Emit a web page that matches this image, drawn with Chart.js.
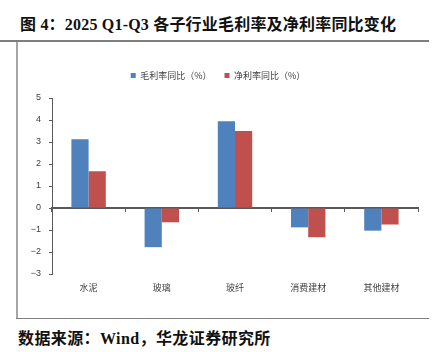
<!DOCTYPE html>
<html>
<head>
<meta charset="utf-8">
<script src="https://cdn.jsdelivr.net/npm/chart.js@4"></script>
<style>
  html, body { margin: 0; padding: 0; background: #fff; }
  body { width: 443px; height: 352px; position: relative; overflow: hidden; }
  #title {
    position: absolute; left: 20px; top: 11px;
    font: bold 16px "Liberation Serif", "Noto Sans CJK SC", serif;
    letter-spacing: 0.2px;
    color: #111; white-space: nowrap;
  }
  #topline { position: absolute; left: 0; top: 40px; width: 429px; height: 2px; background: #7f7f7f; }
  #leftline { position: absolute; left: 16px; top: 42px; width: 2px; height: 276px; background: #a6a6a6; }
  #bottomline { position: absolute; left: 16px; top: 318px; width: 413px; height: 1px; background: #7f7f7f; }
  #source {
    position: absolute; left: 18px; top: 325px;
    font: bold 16px "Liberation Serif", "Noto Sans CJK SC", serif;
    letter-spacing: 0.4px;
    color: #111; white-space: nowrap;
  }
  #wrap { position: absolute; left: 18px; top: 42px; width: 410px; height: 276px; }
</style>
</head>
<body>
<div id="title">图 4：2025 Q1-Q3 各子行业毛利率及净利率同比变化</div>
<div id="topline"></div>
<div id="leftline"></div>
<div id="bottomline"></div>
<div id="wrap"><canvas id="chart"></canvas></div>
<div id="source">数据来源：Wind，华龙证券研究所</div>
<script>
//  Chart data
const categories = ['水泥', '玻璃', '玻纤', '消费建材', '其他建材']
const grossMargin = [3.13, -1.78, 3.94, -0.88, -1.03]
const netMargin = [1.67, -0.65, 3.5, -1.33, -0.75]
const seriesNames = ['毛利率同比（%）', '净利率同比（%）']
const yTicks = [-3, -2, -1, 0, 1, 2, 3, 4, 5]

const cjk = '"Noto Sans CJK SC", sans-serif'
const latin = '"Liberation Sans", Arial, sans-serif'

//  Give the legend a fixed height so the plot starts where it should
const legendHeight = {
  id: 'legendHeight',
  beforeInit (chart) {
    const legend = chart.legend
    const fit = legend.fit
    legend.fit = function () {
      fit.call(this)
      this.height = 40
    }
  }
}

function chartBars () {
  const ctx = document.getElementById('chart').getContext('2d')
  return new Chart(ctx, {
    type: 'bar',
    data: {
      labels: categories,
      datasets: [
        {
          label: seriesNames[0],
          data: grossMargin,
          backgroundColor: '#4f81bd',
          xAxisID: 'x',
          categoryPercentage: 0.47,
          barPercentage: 1
        },
        {
          label: seriesNames[1],
          data: netMargin,
          backgroundColor: '#c0504d',
          xAxisID: 'x',
          categoryPercentage: 0.47,
          barPercentage: 1
        }
      ]
    },
    plugins: [legendHeight],
    options: {
      responsive: true,
      maintainAspectRatio: false,
      animation: false,
      layout: { padding: { top: 16, right: 10, bottom: 0, left: 0 } },
      plugins: {
        tooltip: { enabled: false },
        legend: {
          position: 'top',
          labels: {
            boxWidth: 5,
            boxHeight: 5,
            padding: 13,
            color: '#404040',
            font: { family: cjk, size: 9 }
          }
        }
      },
      scales: {
        x: {
          type: 'category',
          position: { y: 0 },
          offset: true,
          grid: {
            offset: true,
            drawOnChartArea: false,
            drawTicks: true,
            tickLength: 3,
            color: '#595959'
          },
          border: { display: true, color: '#595959', width: 2 },
          ticks: { display: false }
        },
        x2: {
          type: 'category',
          position: 'bottom',
          labels: categories,
          offset: true,
          grid: { display: false },
          border: { display: false },
          ticks: {
            color: '#404040',
            padding: 0,
            font: { family: cjk, size: 9 }
          },
          afterFit: function (scale) { scale.height = 44 }
        },
        y: {
          min: yTicks[0],
          max: yTicks[yTicks.length - 1],
          afterBuildTicks: function (scale) {
            scale.ticks = yTicks.map(v => ({ value: v }))
          },
          grid: {
            drawOnChartArea: false,
            drawTicks: true,
            tickLength: 3,
            color: '#595959'
          },
          border: { display: true, color: '#595959', width: 1 },
          ticks: {
            color: '#404040',
            padding: 8,
            font: { family: latin, size: 9 },
            callback: v => (v < 0 ? '−' + Math.abs(v) : String(v))
          },
          afterFit: function (scale) { scale.width = 34 }
        }
      }
    }
  })
}

chartBars()
</script>
</body>
</html>
